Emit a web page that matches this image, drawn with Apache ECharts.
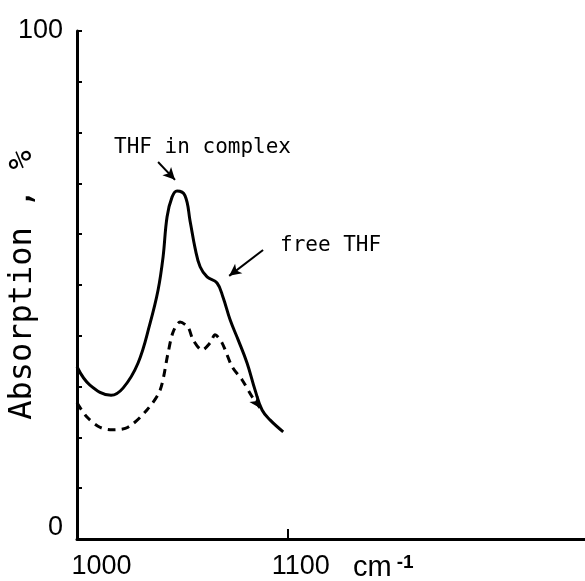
<!DOCTYPE html>
<html>
<head>
<meta charset="utf-8">
<script src="https://cdn.jsdelivr.net/npm/echarts@6/dist/echarts.min.js"></script>
<style>html,body{margin:0;padding:0;background:#fff;}#c{width:585px;height:581px;}</style>
</head>
<body>
<div id="c"></div>
<script>
// wavenumber (cm-1) of sampled points, solid curve (THF complex spectrum)
const solidX = [994, 1000.5, 1011.1, 1017.1, 1024.6, 1030.7, 1034.7, 1037.2, 1039.2, 1041.7, 1044.2, 1048.2, 1050.8, 1053.3, 1055.8, 1059.3, 1064.3, 1067.3, 1070.9, 1074.9, 1079.4, 1083.4, 1086.9, 1091.0, 1097.5];
const solidY = [33.9, 30.3, 28.3, 29.7, 34.6, 42.5, 49.0, 55.5, 63.4, 67.3, 68.5, 67.6, 62.5, 57.2, 53.6, 51.6, 50.4, 47.6, 43.1, 39.2, 34.6, 29.3, 25.4, 23.4, 21.1];
// dashed curve
const dashX = [994, 999, 1005.5, 1011.6, 1019.6, 1029.1, 1035.7, 1039.7, 1042.2, 1045.7, 1049.7, 1052.3, 1056.8, 1060.8, 1063.3, 1066.8, 1071.9, 1076.9, 1081.9, 1085.9];
const dashY = [26.8, 24.0, 22.0, 21.5, 22.0, 25.4, 29.3, 36.6, 40.7, 42.7, 41.7, 39.2, 37.2, 38.6, 40.2, 38.6, 33.9, 31.3, 28.0, 25.8];
// axis tick labels
const xTickLabels = [1000, 1100];
const xTickMarks = [1100];
const yTickLabels = [0, 100];
// annotation arrows [x1, y1, x2, y2] in data units
const arrowComplex = [1034.7, 74.2, 1043.2, 70.7];
const arrowFree = [1087.4, 56.9, 1070.4, 51.8];
const labelComplex = 'THF in complex';
const labelFree = 'free THF';
const yName = 'Absorption , %';

const solidData = solidX.map((x, i) => [x, solidY[i]]);
const dashData = dashX.map((x, i) => {
  if (i === dashX.length - 1) {
    return { value: [x, dashY[i]], symbol: 'arrow', symbolSize: [8, 11], symbolRotate: 215, itemStyle: { color: '#000' } };
  }
  return [x, dashY[i]];
});

const mono = 'DejaVu Sans Mono';
const numFont = 'Liberation Sans';

const chart = echarts.init(document.getElementById('c'), null, { renderer: 'canvas' });
chart.setOption({
  backgroundColor: '#fff',
  animation: false,
  grid: { left: 77, top: 31, right: 0, bottom: 42, containLabel: false, outerBoundsMode: 'none' },
  xAxis: {
    type: 'value', min: 994, max: 1249,
    axisLine: { show: true, onZero: false, lineStyle: { color: '#000', width: 3 } },
    axisTick: { show: true, inside: true, length: 10, customValues: xTickMarks, lineStyle: { color: '#000', width: 2 } },
    axisLabel: { customValues: xTickLabels, margin: 14, color: '#000', fontFamily: numFont, fontSize: 27, padding: [0, 0, 0, 25], formatter: v => String(v) },
    splitLine: { show: false }
  },
  yAxis: {
    type: 'value', min: 0, max: 100, interval: 10,
    name: yName, nameLocation: 'middle', nameRotate: 90, nameGap: 38, nameMoveOverlap: false,
    nameTextStyle: { color: '#000', fontFamily: mono, fontSize: 32 },
    axisLine: { show: true, lineStyle: { color: '#000', width: 3 } },
    axisTick: { show: true, inside: true, length: 5, lineStyle: { color: '#000', width: 2 } },
    axisLabel: {
      customValues: yTickLabels, margin: 14, color: '#000', fontFamily: numFont, fontSize: 27,
      formatter: v => v === 0 ? '{z|0}' : '{h|' + v + '}',
      rich: { z: { fontFamily: numFont, fontSize: 27, color: '#000', padding: [0, 0, 22, 0] }, h: { fontFamily: numFont, fontSize: 27, color: '#000' } }
    },
    splitLine: { show: false }
  },
  series: [
    {
      type: 'line', data: solidData, smooth: 0.4, showSymbol: false, symbol: 'none',
      lineStyle: { color: '#000', width: 3 },
      markLine: {
        silent: true, symbol: ['none', 'arrow'], symbolSize: [9, 12],
        label: { show: false },
        lineStyle: { color: '#000', width: 2, type: 'solid' },
        data: [
          [{ coord: [arrowComplex[0], arrowComplex[1]] }, { coord: [arrowComplex[2], arrowComplex[3]] }],
          [{ coord: [arrowFree[0], arrowFree[1]] }, { coord: [arrowFree[2], arrowFree[3]] }]
        ]
      },
      z: 3
    },
    {
      type: 'line', data: dashData, smooth: 0.3, showSymbol: true, symbol: 'none',
      lineStyle: { color: '#000', width: 3, type: [8, 6] },
      z: 2
    }
  ],
  graphic: [
    { type: 'text', left: 114, top: 137, style: { text: labelComplex, font: '21px "DejaVu Sans Mono"', fill: '#000' } },
    { type: 'text', left: 280, top: 235, style: { text: labelFree, font: '21px "DejaVu Sans Mono"', fill: '#000' } },
    { type: 'text', left: 353, top: 553, style: {
        text: '{a|cm}{b|-1}', fill: '#000',
        rich: { a: { fontFamily: numFont, fontSize: 29, color: '#000' }, b: { fontFamily: numFont, fontSize: 19, fontWeight: 'bold', color: '#000', verticalAlign: 'top', padding: [0, 0, 0, 5] } }
    } }
  ]
});
</script>
</body>
</html>
